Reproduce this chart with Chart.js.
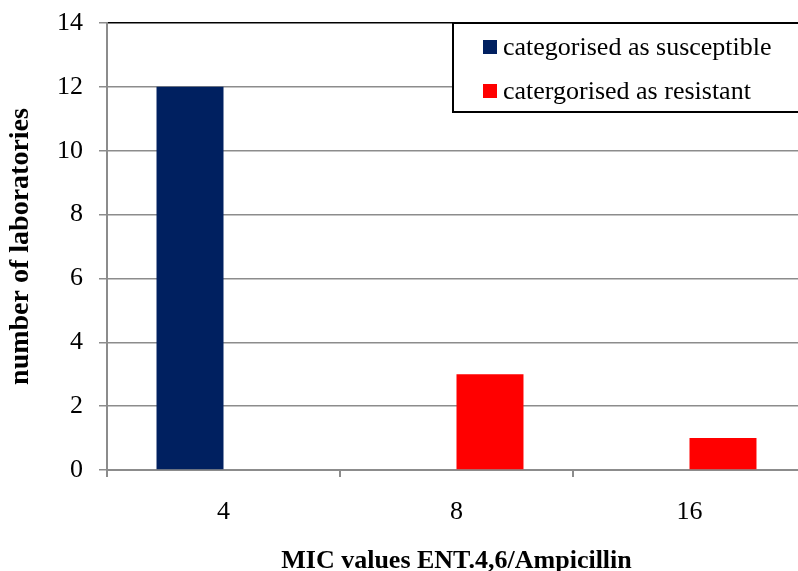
<!DOCTYPE html>
<html>
<head>
<meta charset="utf-8">
<script src="https://cdn.jsdelivr.net/npm/chart.js@4/dist/chart.umd.min.js"></script>
<style>
  html, body { margin: 0; padding: 0; background: #fff; overflow: hidden; }
  #wrap { width: 806px; height: 571px; }
</style>
</head>
<body>
<div id="wrap"><canvas id="c" width="806" height="571"></canvas></div>
<script>
const categories = ['4', '8', '16'];
const seriesNames = ['categorised as susceptible', 'catergorised as resistant'];
const susceptible = [12, null, null];
const resistant = [null, 3, 1];
const yTicks = [0, 2, 4, 6, 8, 10, 12, 14];
const xTitle = 'MIC values ENT.4,6/Ampicillin';
const yTitle = 'number of laboratories';
const colors = ['#002060', '#FF0000'];

const FONT = "'Liberation Serif', 'Times New Roman', serif";
const GRID = '#8c8c8c';

const boxLegend = {
  id: 'boxLegend',
  afterDraw(chart) {
    const ctx = chart.ctx;
    const ca = chart.chartArea;
    ctx.save();
    const x0 = 453, y0 = ca.top, h = 89;
    ctx.fillStyle = '#fff';
    ctx.fillRect(x0, y0, 500, h);
    ctx.strokeStyle = '#000';
    ctx.lineWidth = 2;
    ctx.strokeRect(x0, y0, 500, h);
    ctx.font = '26px ' + FONT;
    ctx.textBaseline = 'alphabetic';
    ctx.textAlign = 'left';
    chart.data.datasets.forEach((ds, i) => {
      const ry = y0 + 17 + i * 44;
      ctx.fillStyle = ds.backgroundColor;
      ctx.fillRect(483, ry, 14, 14);
      ctx.fillStyle = '#000';
      ctx.fillText(ds.label, 503, ry + 15);
    });
    ctx.restore();
  }
};

new Chart(document.getElementById('c'), {
  type: 'bar',
  data: {
    labels: categories,
    datasets: [
      { label: seriesNames[0], data: susceptible, backgroundColor: colors[0], borderWidth: 0 },
      { label: seriesNames[1], data: resistant, backgroundColor: colors[1], borderWidth: 0 }
    ]
  },
  options: {
    responsive: false,
    devicePixelRatio: 1,
    animation: false,
    layout: { padding: { left: 0, right: 0, top: 23, bottom: 0 } },
    datasets: { bar: { categoryPercentage: 0.575, barPercentage: 1.0 } },
    plugins: {
      legend: { display: false },
      tooltip: { enabled: false }
    },
    scales: {
      x: {
        grid: { drawOnChartArea: false, drawTicks: true, tickLength: 7, color: GRID, lineWidth: 2 },
        border: { display: true, color: GRID, width: 2 },
        ticks: { font: { family: FONT, size: 26 }, color: '#000', padding: 20, maxRotation: 0 },
        title: { display: true, text: xTitle, font: { family: FONT, size: 26, weight: 'bold', lineHeight: 0.8 }, color: '#000', padding: { top: 0, bottom: -1 } },
        afterFit(scale) { scale.height = 101; scale.paddingLeft = 0; scale.paddingRight = 0; }
      },
      y: {
        min: 0, max: 14,
        afterBuildTicks(scale) { scale.ticks = yTicks.map(v => ({ value: v })); },
        grid: {
          drawTicks: true, tickLength: 8,
          color: ctx => (ctx.tick && ctx.tick.value === 14 ? '#000' : GRID),
          tickColor: GRID,
          lineWidth: 1.5
        },
        border: { display: true, color: GRID, width: 2 },
        ticks: { font: { family: FONT, size: 26 }, color: '#000', padding: 16 },
        title: { display: true, text: yTitle, font: { family: FONT, size: 28, weight: 'bold', lineHeight: 1.2 }, color: '#000', padding: { top: 4, bottom: 0 } },
        afterFit(scale) { scale.width = 107; scale.paddingTop = 0; scale.paddingBottom = 0; }
      }
    }
  },
  plugins: [boxLegend]
});
</script>
</body>
</html>
